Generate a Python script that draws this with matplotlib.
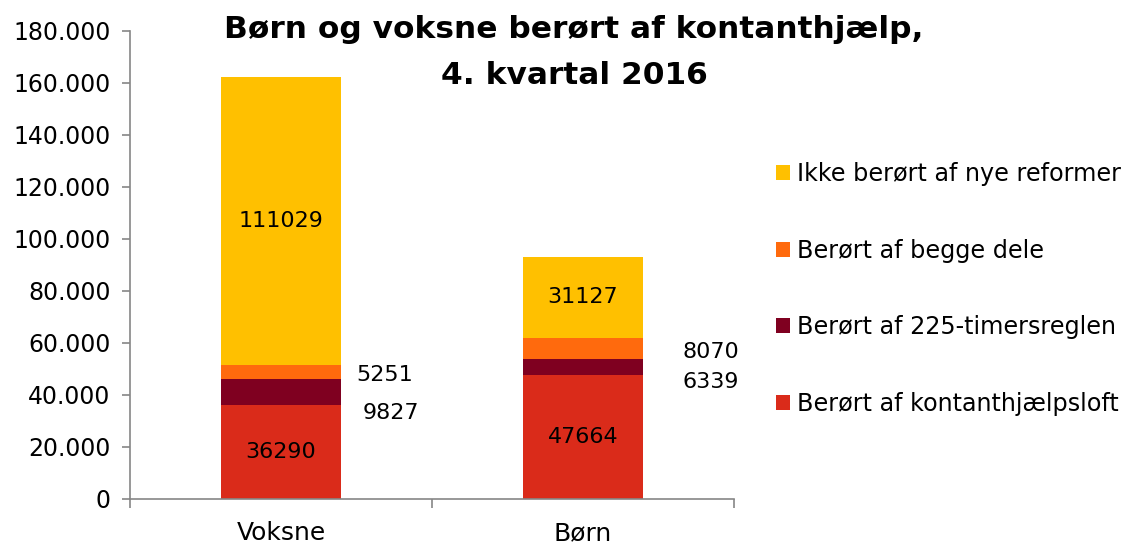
import matplotlib
matplotlib.use("Agg")
import matplotlib.pyplot as plt
from matplotlib.ticker import FuncFormatter
import numpy as np

categories = ["Voksne", "Børn"]
series_names = ["Berørt af kontanthjælpsloft", "Berørt af 225-timersreglen",
                "Berørt af begge dele", "Ikke berørt af nye reformer"]
kontantloft = [36290, 47664]
timer225 = [9827, 6339]
begge = [5251, 8070]
ikke_beroert = [111029, 31127]
colors = ["#DA2B1A", "#7F0020", "#FF6A0D", "#FFC000"]
title_lines = ["Børn og voksne berørt af kontanthjælp,", "4. kvartal 2016"]

plt.rcParams['font.family'] = ['DejaVu Sans']

fig = plt.figure(figsize=(11.46, 5.44), dpi=100)
ax = fig.add_axes([130 / 1146, 45 / 544, 604 / 1146, 468 / 544])

x = np.arange(len(categories))
stacks = [kontantloft, timer225, begge, ikke_beroert]
bottom = np.zeros(len(categories))
for vals, col, name in zip(stacks, colors, series_names):
    ax.bar(x, vals, 0.4, bottom=bottom, color=col, label=name, zorder=2)
    bottom += np.array(vals)

# labels inside the big segments
for seg in (0, 3):
    base = np.zeros(len(categories))
    for k in range(seg):
        base += np.array(stacks[k])
    for i, v in enumerate(stacks[seg]):
        ax.text(x[i], base[i] + v / 2, str(v), ha='center', va='center',
                fontsize=16, color='black')

# small segments: labels dragged out to the right of the bar
mid225 = np.array(kontantloft) + np.array(timer225) / 2
midbegge = np.array(kontantloft) + np.array(timer225) + np.array(begge) / 2
dx225 = [0.27, 0.33]
dy225 = [-8200, -5800]
dxbegge = [0.25, 0.33]
dybegge = [-1000, -1500]
for i in range(len(categories)):
    ax.text(x[i] + dx225[i], mid225[i] + dy225[i], str(timer225[i]),
            ha='left', va='center', fontsize=16)
    ax.text(x[i] + dxbegge[i], midbegge[i] + dybegge[i], str(begge[i]),
            ha='left', va='center', fontsize=16)

ax.set_xlim(-0.5, 1.5)
ax.set_ylim(0, 180000)
ax.set_yticks(np.arange(0, 180001, 20000))
ax.yaxis.set_major_formatter(FuncFormatter(
    lambda v, p: "0" if v == 0 else f"{int(v):,}".replace(",", ".")))
ax.set_xticks([-0.5, 0.5, 1.5])
ax.set_xticklabels([])
ax.set_xticks(x, minor=True)
ax.set_xticklabels(categories, minor=True)
ax.tick_params(axis='x', which='minor', length=0, labelsize=18, pad=16)
ax.tick_params(axis='x', which='major', length=6.5, color='#868686', width=1.2)
ax.tick_params(axis='y', length=6, color='#868686', width=1.2,
               labelsize=17, pad=8)

for s in ('top', 'right'):
    ax.spines[s].set_visible(False)
for s in ('left', 'bottom'):
    ax.spines[s].set_color('#868686')
    ax.spines[s].set_linewidth(1.2)

# title, two lines placed separately to get the wide line gap
for line, ypix in zip(title_lines, (38, 84)):
    fig.text(0.501, 1 - ypix / 544, line, ha='center', va='baseline',
             fontsize=22.5, fontweight='bold')

handles, labels = ax.get_legend_handles_labels()
fig.legend(handles[::-1], labels[::-1], loc='center left',
           bbox_to_anchor=(776 / 1146, 1 - 289 / 544), frameon=False,
           fontsize=17.2, handlelength=0.58, handleheight=0.58,
           handletextpad=0.3, labelspacing=2.2, borderpad=0,
           borderaxespad=0)

fig.savefig("out.png", dpi=100)
